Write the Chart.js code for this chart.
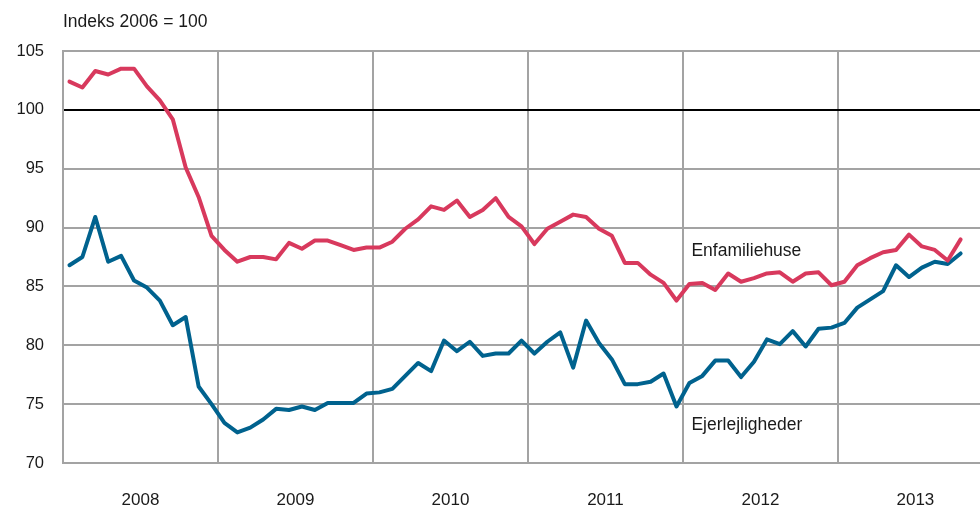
<!DOCTYPE html>
<html>
<head>
<meta charset="utf-8">
<script src="https://cdn.jsdelivr.net/npm/chart.js@4/dist/chart.umd.min.js"></script>
<style>
  html, body { margin: 0; padding: 0; background: #ffffff; }
  #wrap { width: 980px; height: 508px; }
</style>
</head>
<body>
<div id="wrap"><canvas id="c" width="980" height="508"></canvas></div>
<script>
// ---- data ----
const years = ['2008', '2009', '2010', '2011', '2012', '2013'];
const monthNames = ['jan', 'feb', 'mar', 'apr', 'maj', 'jun', 'jul', 'aug', 'sep', 'okt', 'nov', 'dec'];
const titleText = 'Indeks 2006 = 100';
const seriesNames = ['Enfamiliehuse', 'Ejerlejligheder'];
const yTicks = [70, 75, 80, 85, 90, 95, 100, 105];

// Enfamiliehuse, monthly Jan 2008 - Oct 2013
const enfamiliehuse = [
  102.4, 101.9, 103.3, 103.0, 103.5, 103.5, 102.0, 100.8, 99.2, 95.1, 92.6, 89.3,
  88.1, 87.1, 87.5, 87.5, 87.3, 88.7, 88.2, 88.9, 88.9, 88.5, 88.1, 88.3,
  88.3, 88.8, 89.9, 90.7, 91.8, 91.5, 92.3, 90.9, 91.5, 92.5, 90.9, 90.1,
  88.6, 89.9, 90.5, 91.1, 90.9, 89.9, 89.3, 87.0, 87.0, 86.0, 85.3, 83.8,
  85.2, 85.3, 84.7, 86.1, 85.4, 85.7, 86.1, 86.2, 85.4, 86.1, 86.2, 85.1,
  85.4, 86.8, 87.4, 87.9, 88.1, 89.4, 88.4, 88.1, 87.2, 89.0
];
// Ejerlejligheder, monthly Jan 2008 - Oct 2013
const ejerlejligheder = [
  86.8, 87.5, 90.9, 87.1, 87.6, 85.5, 84.9, 83.8, 81.7, 82.4, 76.5, 75.0,
  73.4, 72.6, 73.0, 73.7, 74.6, 74.5, 74.8, 74.5, 75.1, 75.1, 75.1, 75.9,
  76.0, 76.3, 77.4, 78.5, 77.8, 80.4, 79.5, 80.3, 79.1, 79.3, 79.3, 80.4,
  79.3, 80.3, 81.1, 78.1, 82.1, 80.2, 78.8, 76.7, 76.7, 76.9, 77.6, 74.8,
  76.8, 77.4, 78.7, 78.7, 77.3, 78.6, 80.5, 80.1, 81.2, 79.9, 81.4, 81.5,
  81.9, 83.2, 83.9, 84.6, 86.8, 85.8, 86.6, 87.1, 86.9, 87.8
];
// series label anchors (category index, value)
const labelAnchors = [[48, 88.0], [48, 73.25]];

// category labels: months Jan 2008 .. Nov 2013 (last slot empty)
const categories = [];
years.forEach(function (y) {
  monthNames.forEach(function (m) { categories.push(m + ' ' + y); });
});
categories.length = 71;

const FONT = "'Liberation Sans', Arial, sans-serif";
const GRID = '#a3a3a3';
const RED = '#d8395d';
const BLUE = '#00628e';
const INK = '#1a1a1a';

const seriesLabelPlugin = {
  id: 'seriesLabels',
  afterDatasetsDraw: function (chart) {
    const ctx = chart.ctx;
    const xs = chart.scales.x, ys = chart.scales.y;
    ctx.save();
    ctx.font = '17.5px ' + FONT;
    ctx.fillStyle = INK;
    ctx.textAlign = 'left';
    ctx.textBaseline = 'middle';
    seriesNames.forEach(function (name, k) {
      const a = labelAnchors[k];
      ctx.fillText(name, xs.getPixelForValue(a[0]) + 2, ys.getPixelForValue(a[1]));
    });
    ctx.restore();
  }
};

new Chart(document.getElementById('c'), {
  type: 'line',
  data: {
    labels: categories,
    datasets: [
      { label: seriesNames[0], data: enfamiliehuse, borderColor: RED, borderWidth: 4,
        pointRadius: 0, tension: 0, fill: false, borderJoinStyle: 'round', borderCapStyle: 'round' },
      { label: seriesNames[1], data: ejerlejligheder, borderColor: BLUE, borderWidth: 4,
        pointRadius: 0, tension: 0, fill: false, borderJoinStyle: 'round', borderCapStyle: 'round' }
    ]
  },
  options: {
    responsive: false,
    devicePixelRatio: 1,
    animation: false,
    layout: { padding: { left: 0, right: 0, top: 0, bottom: 0 } },
    plugins: {
      legend: { display: false },
      tooltip: { enabled: false },
      title: {
        display: true,
        text: titleText,
        align: 'start',
        fullSize: false,
        color: INK,
        font: { family: FONT, size: 17.5, weight: 'normal', lineHeight: 1.2 },
        padding: { top: 12, bottom: 18 }
      }
    },
    scales: {
      x: {
        type: 'category',
        offset: true,
        grid: {
          offset: true,
          drawTicks: false,
          lineWidth: 2,
          color: function (c) { return (c.index % 12 === 0) ? GRID : 'rgba(0,0,0,0)'; }
        },
        border: { display: true, color: GRID, width: 2 },
        ticks: {
          autoSkip: false,
          maxRotation: 0,
          minRotation: 0,
          padding: 27,
          labelOffset: -6.46,
          color: INK,
          font: { family: FONT, size: 17 },
          callback: function (v, i) { return (i % 12 === 6) ? years[Math.floor(i / 12)] : ''; }
        },
        afterFit: function (s) { s.height = 45; s.paddingLeft = 0; s.paddingRight = 0; }
      },
      y: {
        min: 70,
        max: 105,
        afterBuildTicks: function (s) { s.ticks = yTicks.map(function (v) { return { value: v }; }); },
        grid: {
          drawTicks: false,
          lineWidth: 2,
          color: function (c) { return (c.tick && c.tick.value === 100) ? '#000000' : GRID; }
        },
        border: { display: true, color: GRID, width: 2 },
        ticks: {
          padding: 19,
          color: INK,
          font: { family: FONT, size: 16.5 }
        },
        afterFit: function (s) { s.width = 63; }
      }
    }
  },
  plugins: [seriesLabelPlugin]
});
</script>
</body>
</html>
